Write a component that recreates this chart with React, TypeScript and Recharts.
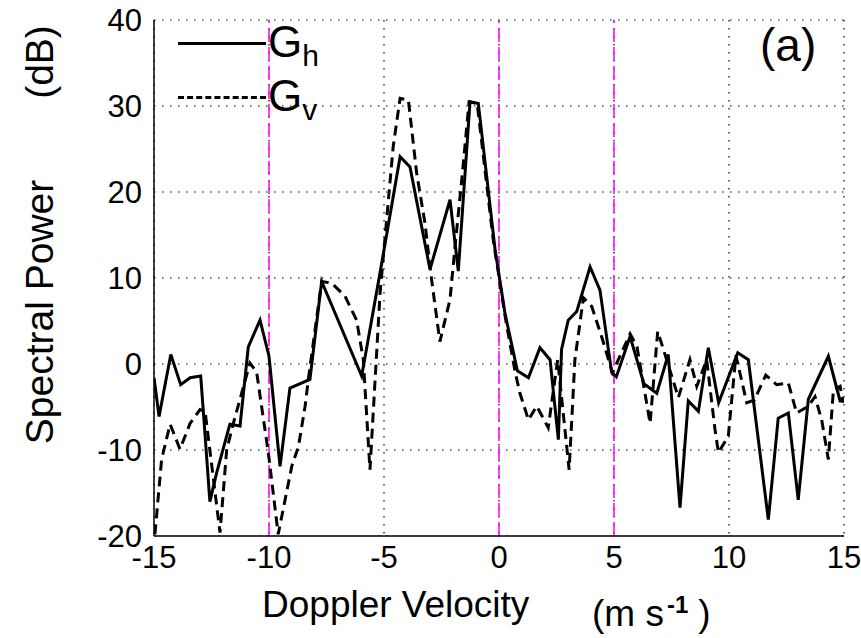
import React from "react";
import { LineChart, Line, XAxis, YAxis, CartesianGrid, ReferenceLine } from "recharts";

// horizontal polarisation spectrum (solid)
const ghVel = [-15.0, -14.78, -14.27, -13.84, -13.43, -12.97, -12.86, -12.57, -12.28, -11.7, -11.26, -10.9, -10.39, -10.0, -9.52, -9.09, -8.22, -7.71, -5.97, -5.1, -4.3, -3.87, -3.0, -2.13, -1.77, -1.26, -0.9, -0.17, 0.26, 0.8, 1.28, 1.78, 2.22, 2.58, 2.72, 3.01, 3.38, 3.96, 4.39, 4.9, 5.1, 5.7, 6.3, 6.86, 7.36, 7.87, 8.23, 8.67, 9.1, 9.55, 10.38, 10.84, 11.71, 12.14, 12.58, 13.01, 13.45, 14.32, 14.83, 15.0];
const ghPow = [-1.6, -6.1, 1.1, -2.4, -1.6, -1.4, -5.3, -16.0, -12.7, -7.0, -7.2, 2.0, 5.1, 0.9, -11.9, -2.8, -1.8, 9.6, -1.4, 11.7, 24.1, 22.9, 11.0, 19.1, 10.8, 30.5, 30.3, 13.3, 5.9, -0.8, -1.6, 1.9, 0.5, -8.8, 1.7, 5.1, 6.1, 11.3, 8.6, -1.0, -1.5, 3.2, -2.3, -3.4, 1.1, -16.7, -4.3, -5.5, 1.9, -4.5, 1.3, 0.5, -18.1, -6.3, -5.7, -15.8, -4.1, 0.9, -4.3, -4.3];

// vertical polarisation spectrum (dashed)
const gvVel = [-14.96, -14.67, -14.3, -13.87, -13.43, -13.0, -12.78, -12.13, -11.84, -11.55, -10.83, -10.54, -10.03, -9.6, -9.01, -8.72, -8.43, -8.29, -7.71, -7.27, -6.7, -6.19, -5.9, -5.61, -5.17, -4.6, -4.3, -3.94, -3.58, -3.22, -2.93, -2.57, -2.13, -1.91, -1.62, -1.3, -0.95, -0.25, 0.3, 0.7, 0.91, 1.28, 1.64, 2.14, 2.55, 3.05, 3.3, 3.67, 4.03, 4.46, 4.93, 5.7, 6.0, 6.57, 6.9, 7.29, 7.8, 8.3, 8.6, 9.03, 9.39, 9.54, 9.97, 10.3, 10.77, 11.1, 11.6, 12.07, 12.58, 12.94, 13.45, 13.74, 14.03, 14.32, 14.54, 14.83, 14.97];
const gvPow = [-19.8, -11.1, -7.0, -9.9, -6.9, -5.3, -5.5, -19.6, -10.0, -6.9, 0.1, -0.9, -10.3, -19.8, -11.9, -9.6, -4.9, -1.8, 9.6, 9.4, 7.9, 5.1, 0.5, -12.3, 8.3, 25.3, 30.9, 30.7, 22.2, 16.4, 9.8, 2.6, 7.5, 13.7, 21.4, 30.5, 30.3, 14.4, 5.0, -0.9, -3.4, -6.5, -4.9, -7.4, 0.5, -12.3, 0.5, 7.7, 6.7, 3.2, -1.0, 3.5, 2.0, -6.9, 3.8, 0.5, -3.9, 0.5, -2.6, 0.5, -7.6, -10.3, -8.4, 1.0, -4.5, -4.2, -1.3, -2.4, -2.2, -5.7, -4.9, -3.8, -6.5, -11.1, -3.0, -2.6, -4.5];

const xTicks = [-15, -10, -5, 0, 5, 10, 15];
const yTicks = [-20, -10, 0, 10, 20, 30, 40];
const markerVel = [-10, 0, 5];

const ghData = ghVel.map((v, i) => ({ v, p: ghPow[i] }));
const gvData = gvVel.map((v, i) => ({ v, p: gvPow[i] }));

const FONT = "'Liberation Sans', Arial, sans-serif";

export default function App() {
  return (
    <div style={{ position: "absolute", left: 0, top: 0, width: 861, height: 638, background: "#fff", fontFamily: FONT, color: "#000" }}>
      <LineChart width={861} height={638} margin={{ top: 20, right: 17, left: 0, bottom: 0 }}>
        <CartesianGrid stroke="#000" strokeDasharray="1.5 6.5" strokeWidth={1.2} />
        <XAxis
          dataKey="v"
          type="number"
          domain={[-15, 15]}
          ticks={xTicks}
          allowDataOverflow
          height={102}
          tickSize={0}
          tickMargin={10}
          axisLine={{ stroke: "#000", strokeWidth: 1.5 }}
          tick={{ fill: "#000", fontSize: 31, fontFamily: FONT }}
        />
        <XAxis xAxisId="top" orientation="top" type="number" domain={[-15, 15]} height={0} tick={false} tickLine={false} axisLine={{ stroke: "#000", strokeWidth: 1.5 }} />
        <YAxis
          type="number"
          domain={[-20, 40]}
          ticks={yTicks}
          allowDataOverflow
          width={154}
          tickSize={0}
          tickMargin={12}
          axisLine={{ stroke: "#000", strokeWidth: 1.5 }}
          tick={{ fill: "#000", fontSize: 31, fontFamily: FONT }}
        />
        <YAxis yAxisId="right" orientation="right" domain={[-20, 40]} width={0} tick={false} tickLine={false} axisLine={{ stroke: "#000", strokeWidth: 1.5 }} />
        {markerVel.map((m) => (
          <ReferenceLine key={m} x={m} stroke="#ff00ff" strokeWidth={1.5} strokeDasharray="14 5" />
        ))}
        <Line data={gvData} dataKey="p" type="linear" stroke="#000" strokeWidth={3} strokeDasharray="10 6" dot={false} isAnimationActive={false} />
        <Line data={ghData} dataKey="p" type="linear" stroke="#000" strokeWidth={3} dot={false} isAnimationActive={false} />
      </LineChart>

      {/* legend */}
      <div style={{ position: "absolute", left: 178, top: 42, width: 88, borderTop: "3px solid #000" }} />
      <div style={{ position: "absolute", left: 178, top: 96, width: 88, borderTop: "3px dashed #000" }} />
      <div style={{ position: "absolute", left: 268, top: 18, fontSize: 44, lineHeight: "48px" }}>
        G<sub style={{ fontSize: 30, verticalAlign: "-0.3em" }}>h</sub>
      </div>
      <div style={{ position: "absolute", left: 268, top: 72, fontSize: 44, lineHeight: "48px" }}>
        G<sub style={{ fontSize: 30, verticalAlign: "-0.3em" }}>v</sub>
      </div>
      <div style={{ position: "absolute", left: 760, top: 20, fontSize: 46, lineHeight: "50px" }}>(a)</div>

      {/* axis titles */}
      <div style={{ position: "absolute", left: 262, top: 584, fontSize: 37, lineHeight: "42px", whiteSpace: "pre" }}>
        Doppler Velocity
      </div>
      <div style={{ position: "absolute", left: 592, top: 584, fontSize: 37, lineHeight: "42px", whiteSpace: "pre" }}>
        {"(m s"}
        <sup style={{ fontSize: 24, fontWeight: "bold", verticalAlign: "0.55em", marginLeft: 3 }}>-1</sup>
        <span style={{ marginLeft: 10 }}>)</span>
      </div>
      <div style={{ position: "absolute", left: 40, top: 312, transform: "translate(-50%, -50%) rotate(-90deg)", fontSize: 39, lineHeight: "42px", whiteSpace: "pre" }}>
        Spectral Power
      </div>
      <div style={{ position: "absolute", left: 40, top: 62, transform: "translate(-50%, -50%) rotate(-90deg)", fontSize: 39, lineHeight: "42px", whiteSpace: "pre" }}>
        (dB)
      </div>
    </div>
  );
}
